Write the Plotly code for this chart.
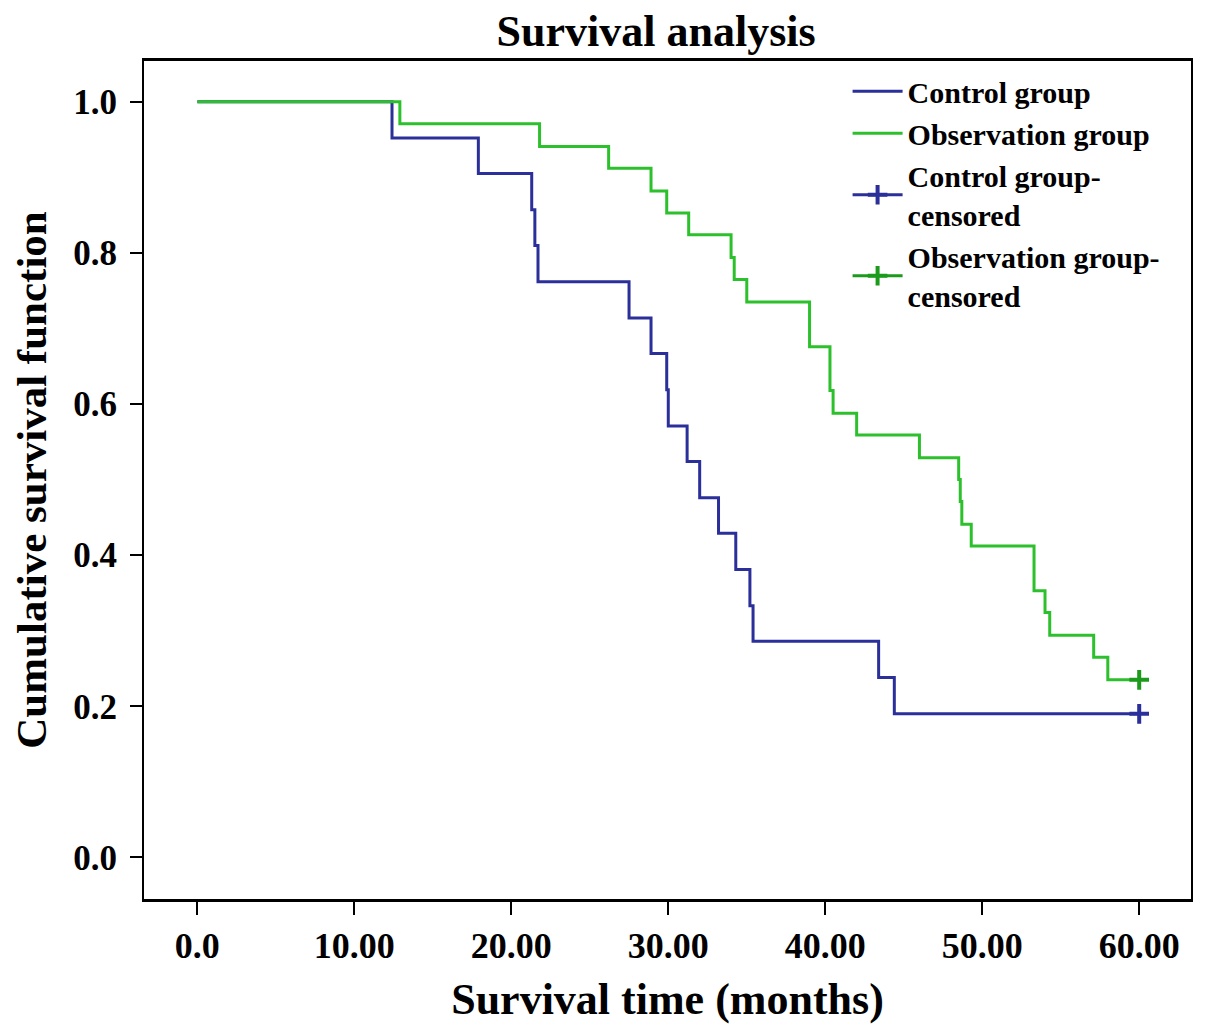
import plotly.graph_objects as go

# Kaplan-Meier step data
control_time = [0, 12.4, 17.9, 21.3, 21.5, 21.7, 27.5, 28.9, 29.9, 30.0, 31.2, 32.0,
                33.2, 34.3, 35.2, 35.4, 43.4, 44.4, 60]
control_surv = [1.0, 0.952, 0.905, 0.857, 0.810, 0.762, 0.714, 0.667, 0.619, 0.571,
                0.524, 0.476, 0.429, 0.381, 0.333, 0.286, 0.238, 0.190, 0.190]

obs_time = [0, 12.9, 21.8, 26.2, 28.9, 29.9, 31.3, 34.0, 34.2, 35.0, 39.0, 40.3, 40.5,
            42.0, 46.0, 48.5, 48.6, 48.7, 49.3, 53.3, 54.0, 54.3, 57.1, 58.0, 60]
obs_surv = [1.0, 0.971, 0.941, 0.912, 0.882, 0.853, 0.824, 0.794, 0.765, 0.735, 0.676,
            0.618, 0.588, 0.559, 0.529, 0.500, 0.471, 0.441, 0.412, 0.353, 0.324, 0.294,
            0.265, 0.235, 0.235]

control_cens_time = [60]
control_cens_surv = [0.190]
obs_cens_time = [60]
obs_cens_surv = [0.235]

x_ticks = [0, 10, 20, 30, 40, 50, 60]
x_tick_labels = ["0.0", "10.00", "20.00", "30.00", "40.00", "50.00", "60.00"]
y_ticks = [0, 0.2, 0.4, 0.6, 0.8, 1.0]
y_tick_labels = ["0.0", "0.2", "0.4", "0.6", "0.8", "1.0"]

BLUE = "#2b2f99"
GREEN = "#2cc02c"
GREEN_DARK = "#1c9a1c"
FONT = "Liberation Serif"

fig = go.Figure()
fig.add_trace(go.Scatter(x=control_time, y=control_surv, mode="lines", line_shape="hv",
                         line=dict(color=BLUE, width=3), name="<b>Control group</b>"))
fig.add_trace(go.Scatter(x=obs_time, y=obs_surv, mode="lines", line_shape="hv",
                         line=dict(color=GREEN, width=3), name="<b>Observation group</b>"))
fig.add_trace(go.Scatter(x=control_cens_time, y=control_cens_surv, mode="lines+markers",
                         line=dict(color=BLUE, width=3),
                         marker=dict(symbol="cross-thin", size=14,
                                     line=dict(color=BLUE, width=4)),
                         name="<b>Control group-<br>censored</b>"))
fig.add_trace(go.Scatter(x=obs_cens_time, y=obs_cens_surv, mode="lines+markers",
                         line=dict(color=GREEN_DARK, width=3),
                         marker=dict(symbol="cross-thin", size=14,
                                     line=dict(color=GREEN_DARK, width=4)),
                         name="<b>Observation group-<br>censored</b>"))

fig.update_layout(
    width=1198, height=1024,
    margin=dict(l=136, r=15, t=53, b=133),
    paper_bgcolor="white", plot_bgcolor="white",
    font=dict(family=FONT, color="black"),
    title=dict(text="<b>Survival analysis</b>", x=0.541, xanchor="center",
               y=0.978, yanchor="middle", font=dict(size=44, family=FONT)),
    showlegend=True,
    legend=dict(x=0.672, y=0.995, xanchor="left", yanchor="top",
                font=dict(size=30, family=FONT), bgcolor="rgba(0,0,0,0)",
                itemwidth=50, tracegroupgap=0),
)
fig.update_xaxes(
    range=[-3.4, 63.3], tickvals=x_ticks, ticktext=["<b>%s</b>" % t for t in x_tick_labels],
    tickfont=dict(size=36, family=FONT), ticks="outside", ticklen=13, tickwidth=2,
    tickcolor="black", showline=True, linecolor="black", linewidth=3, mirror=True,
    showgrid=False, zeroline=False,
    title=dict(text="<b>Survival time (months)</b>", font=dict(size=44, family=FONT),
               standoff=18),
)
fig.update_yaxes(
    range=[-0.055, 1.054], tickvals=y_ticks, ticktext=["<b>%s</b>" % t for t in y_tick_labels],
    tickfont=dict(size=35, family=FONT), ticks="outside", ticklen=12, tickwidth=2,
    tickcolor="black", showline=True, linecolor="black", linewidth=2, mirror=True,
    showgrid=False, zeroline=False, ticklabelstandoff=6,
    title=dict(text="<b>Cumulative survival function</b>", font=dict(size=43, family=FONT),
               standoff=22),
)

fig.write_html("out.html")
